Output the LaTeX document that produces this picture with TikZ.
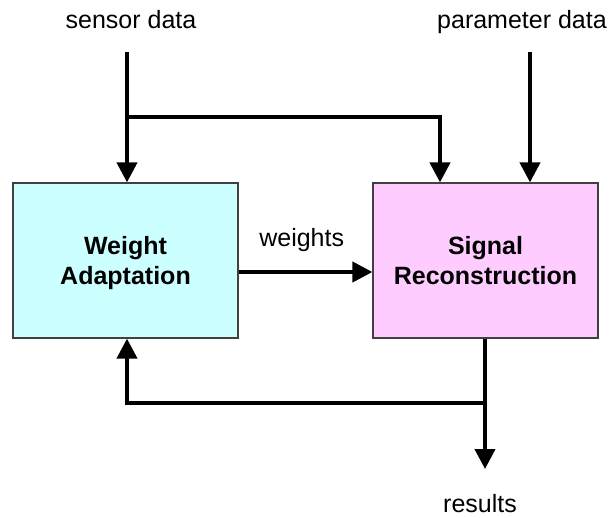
\documentclass[tikz,border=0pt]{standalone}
\usepackage{fontspec}
\setmainfont{Liberation Sans}
\usetikzlibrary{arrows.meta}

\begin{document}
\begin{tikzpicture}[x=1pt,y=-1pt,
  block/.style={draw=black!75, line width=1.2pt, minimum width=225pt, minimum height=155pt,
    align=center, inner sep=0pt, text depth=0pt,
    font=\fontsize{25}{30}\selectfont\bfseries},
  label/.style={inner sep=0pt, anchor=base, font=\fontsize{25}{30}\selectfont},
  flow/.style={line width=4pt, -{Triangle[width=20pt,length=20pt]}}]
\useasboundingbox (0,0) rectangle (615,517);

% processing blocks
\node[block, fill={rgb,255:red,204;green,255;blue,255}] (WA) at (125.5,260.5) {Weight\\Adaptation};
\node[block, fill={rgb,255:red,255;green,204;blue,255}] (SR) at (485.5,260.5) {Signal\\Reconstruction};

% external labels
\node[label] (sensor) at (131,28.3) {sensor data};
\node[label, anchor=base west] (param) at (437,28.3) {parameter data};
\node[label] (res) at (480,512.7) {results};
\node[label] (wlab) at (301.7,246) {weights};

% connector end points
\coordinate (sIn) at (127,52);
\coordinate (sBr) at (127,117);
\coordinate (sTo) at (440,183);
\coordinate (pIn) at (530,52);
\coordinate (oEnd) at (485,469);
\coordinate (fb) at (485,403);

% sensor data feeds both blocks
\draw[flow] (sIn) -- (sIn |- WA.north);
\draw[flow] (sBr) -| (sTo |- SR.north);
% parameter data
\draw[flow] (pIn) -- (pIn |- SR.north);
% weights
\draw[flow] (WA.east |- 0,272) -- (SR.west |- 0,272);
% results and feedback
\draw[flow] (oEnd |- SR.south) -- (oEnd);
\draw[flow] (fb) -| (sIn |- WA.south);
\end{tikzpicture}
\end{document}
